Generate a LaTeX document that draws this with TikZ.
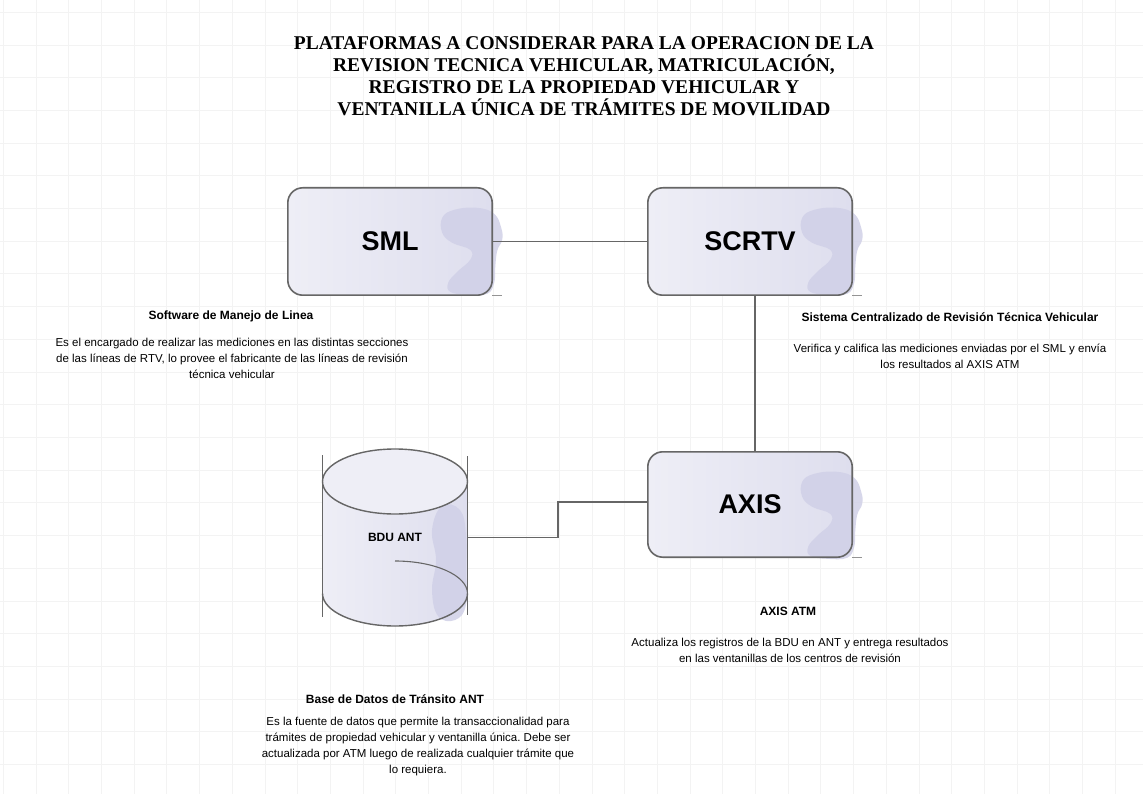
\documentclass[tikz,border=0pt]{standalone}
\usepackage{fontspec}
\setmainfont{Liberation Sans}
\newfontfamily\titlefont{Liberation Serif}
\frenchspacing
\definecolor{gridc}{RGB}{243,243,243}
\definecolor{edgec}{RGB}{102,102,102}
\definecolor{fillL}{RGB}{238,238,246}
\definecolor{fillR}{RGB}{222,222,238}
\definecolor{blobc}{RGB}{208,208,231}
\tikzset{
  box/.style={minimum width=204pt, minimum height=107pt, inner sep=0pt,
    left color=fillL, right color=fillR, rounded corners=15pt,
    font=\fontsize{27}{30}\selectfont\bfseries},
  outline/.style={draw=edgec, line width=1.6pt, rounded corners=15pt},
  edge/.style={draw=edgec, line width=1.4pt},
  heading/.style={font=\fontsize{12}{14}\selectfont\bfseries, align=center, inner sep=0pt},
  body/.style={font=\fontsize{11.5}{16}\selectfont, align=center, inner sep=0pt},
  titletext/.style={font=\titlefont\bfseries\fontsize{19.5}{22}\selectfont, align=center, inner sep=0pt},
  blobfill/.style={fill=blobc, opacity=0.85}
}
\newcommand\boxblob{%
  \fill[blobfill] plot[smooth cycle, tension=0.7] coordinates {
    (-50,30) (-38,22) (-15,20) (2,26) (9,40) (10,52) (5,63) (3,80) (2,95)
    (-5,106) (-25,107) (-42,104) (-44,95) (-35,84) (-22,72) (-22,62) (-40,55) (-50,45)};}
\begin{document}
\begin{tikzpicture}[x=1pt, y=-1pt]
\useasboundingbox (0,0) rectangle (1143,794);
\fill[white] (0,0) rectangle (1143,794);
% grid
\foreach \i in {0,...,34} \draw[gridc, line width=0.8pt] ({3.3+32.7*\i},0) -- ({3.3+32.7*\i},794);
\foreach \j in {0,...,24} \draw[gridc, line width=0.8pt] (0,{12.3+32.7*\j}) -- (1143,{12.3+32.7*\j});

% title
\node[titletext] (title) at (584,76) {PLATAFORMAS A CONSIDERAR PARA LA OPERACION DE LA\\REVISION TECNICA VEHICULAR, MATRICULACIÓN,\\REGISTRO DE LA PROPIEDAD VEHICULAR Y\\VENTANILLA ÚNICA DE TRÁMITES DE MOVILIDAD};

% boxes
\node[box] (sml) at (390,241.5) {SML};
\begin{scope}[shift={(sml.north east)}]\boxblob\end{scope}
\draw[outline] (sml.south west) rectangle (sml.north east);
\draw[edgec!70, line width=1pt] (sml.south east) -- ++(10,0);

\node[box] (scrtv) at (750,241.5) {SCRTV};
\begin{scope}[shift={(scrtv.north east)}]\boxblob\end{scope}
\draw[outline] (scrtv.south west) rectangle (scrtv.north east);
\draw[edgec!70, line width=1pt] (scrtv.south east) -- ++(10,0);

\node[box, minimum height=105pt] (axis) at (750,504.5) {AXIS};
\begin{scope}[shift={(axis.north east)}]\boxblob\end{scope}
\draw[outline] (axis.south west) rectangle (axis.north east);
\draw[edgec!70, line width=1pt] (axis.south east) -- ++(10,0);

% cylinder
\fill[left color=fillL, right color=fillR] (322.5,481.5) -- (322.5,593.5)
  arc[start angle=180, end angle=360, x radius=72.5pt, y radius=32.5pt]
  -- (467.5,481.5) arc[start angle=0, end angle=180, x radius=72.5pt, y radius=32.5pt] -- cycle;
\fill[blobfill] plot[smooth cycle, tension=0.7] coordinates {(442,506) (460,510) (466,535) (466,570) (466,605) (455,620) (438,616) (432,590) (436,560) (432,530)};
\fill[fillL] (395,481.5) ellipse[x radius=72.5pt, y radius=32.5pt];
\draw[edgec, line width=1.4pt] (395,481.5) ellipse[x radius=72.5pt, y radius=32.5pt];
\draw[edgec, line width=1.4pt] (322.5,593.5) arc[start angle=180, end angle=360, x radius=72.5pt, y radius=32.5pt];
\draw[edgec, line width=1.1pt] (395,561) arc[start angle=90, end angle=0, x radius=72.5pt, y radius=32.5pt];
\draw[edgec, line width=1.4pt] (322.5,455) -- (322.5,617);
\draw[edgec, line width=1.4pt] (467.5,456) -- (467.5,615);
\node[minimum width=145pt, minimum height=177pt, inner sep=0pt, font=\fontsize{12}{14}\selectfont\bfseries] (bdu) at (395,537.5) {BDU ANT};

% connectors
\draw[edge] (sml.east) -- (scrtv.west);
\draw[edge] ([xshift=5pt]scrtv.south) -- ([xshift=5pt]axis.north);
\coordinate (bend) at (558,537.5);
\draw[edge] (bdu.east) -- (bend) |- ([yshift=2.5pt]axis.west);

% texts
\node[heading] (smlh) at (231,316) {Software de Manejo de Linea};
\node[body] (smlb) at (232,358) {Es el encargado de realizar las mediciones en las distintas secciones\\de las líneas de RTV, lo provee el fabricante de las líneas de revisión\\técnica vehicular};
\node[heading] (scrtvh) at (950,317) {Sistema Centralizado de Revisión Técnica Vehicular};
\node[body] (scrtvb) at (950,356) {Verifica y califica las mediciones enviadas por el SML y envía\\los resultados al AXIS ATM};
\node[heading] (axish) at (788,611) {AXIS ATM};
\node[body] (axisb) at (790,650) {Actualiza los registros de la BDU en ANT y entrega resultados\\en las ventanillas de los centros de revisión};
\node[heading] (bduh) at (395,699) {Base de Datos de Tránsito ANT};
\node[body] (bdub) at (418,747) {Es la fuente de datos que permite la transaccionalidad para\\trámites de propiedad vehicular y ventanilla única. Debe ser\\actualizada por ATM luego de realizada cualquier trámite que\\lo requiera.};
\end{tikzpicture}
\end{document}
